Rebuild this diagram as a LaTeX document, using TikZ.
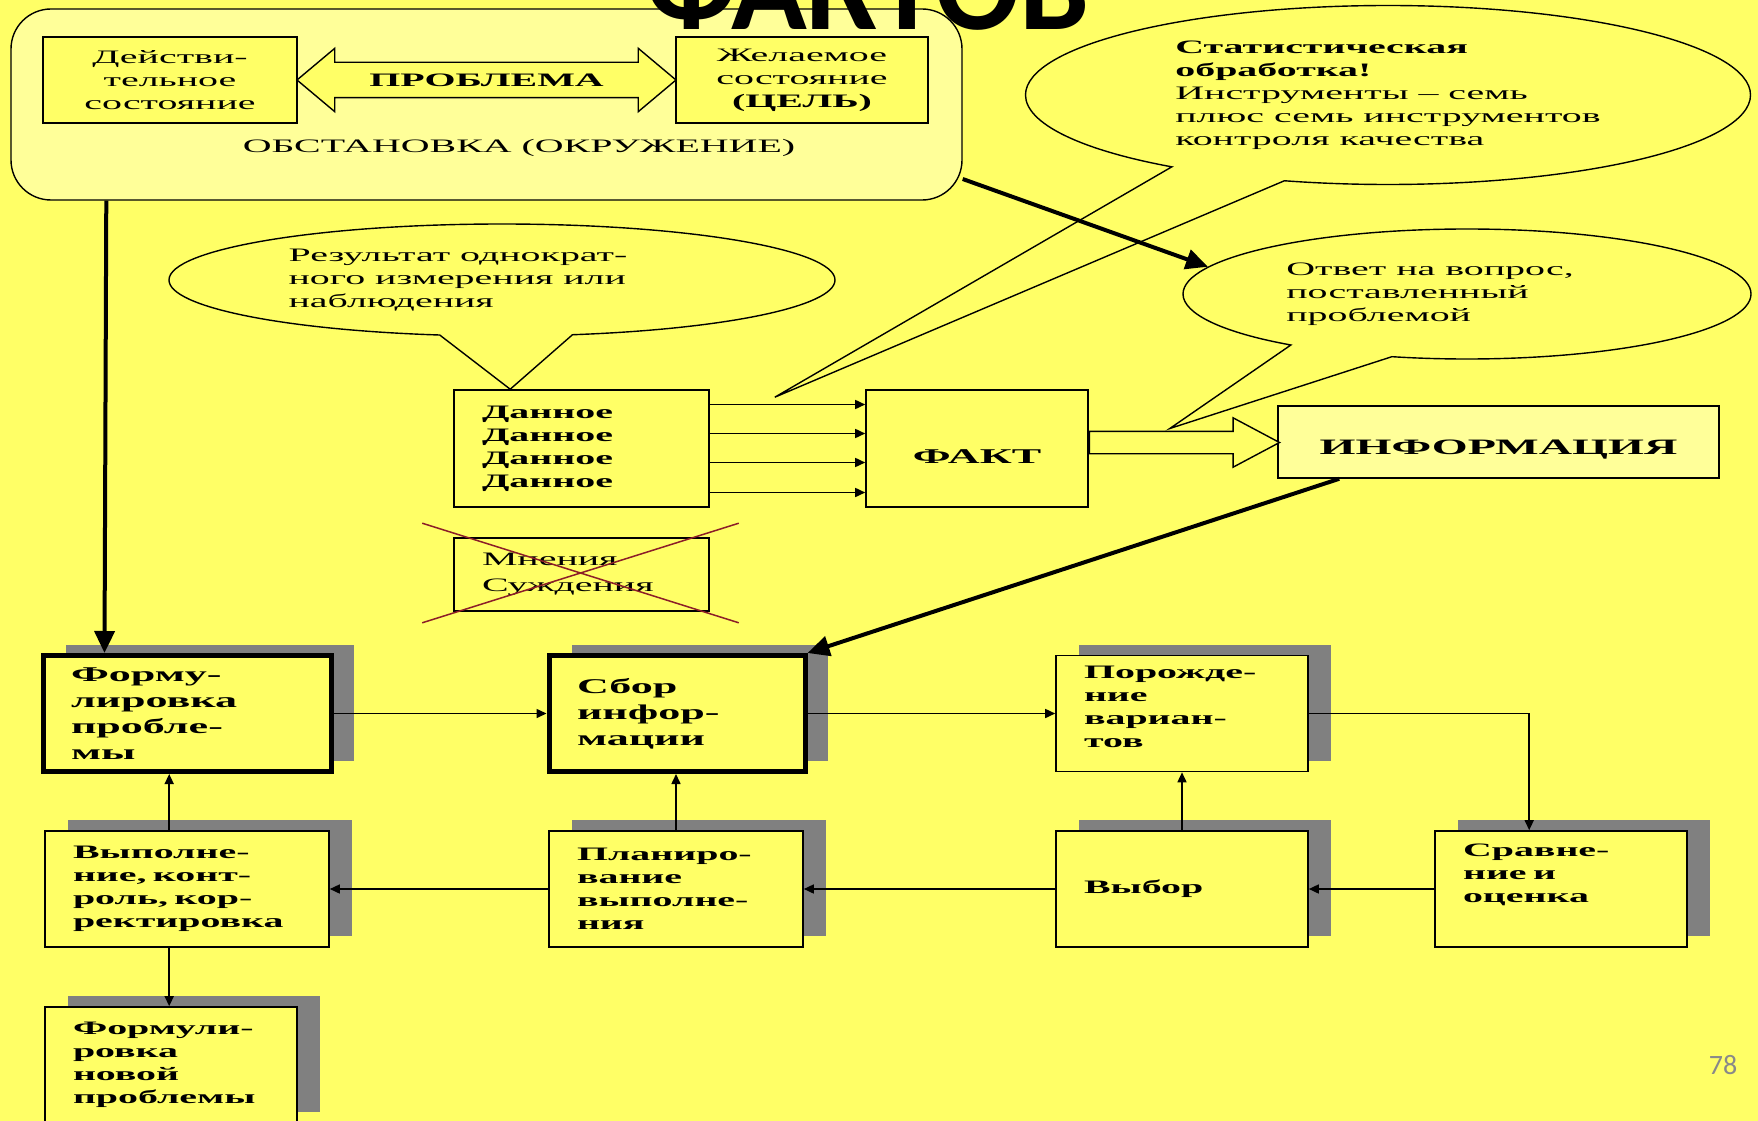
\documentclass[tikz,border=0pt]{standalone}
\usepackage{fontspec}
\setmainfont{Liberation Serif}
\newfontfamily\widefont[FakeStretch=2.1]{Liberation Serif}
\newfontfamily\slidefont{Carlito}
\usepackage{tikz}
\usetikzlibrary{arrows.meta, calc, shapes.arrows, shapes.callouts, shadows}
\definecolor{bgyellow}{RGB}{255,255,102}
\definecolor{lightyellow}{RGB}{255,255,153}
\definecolor{shadowgray}{RGB}{128,128,128}
\definecolor{crossred}{RGB}{140,30,40}
\definecolor{pagegray}{RGB}{137,137,137}
\newcommand{\smalltext}{\widefont\fontsize{19}{23}\selectfont}
\newcommand{\bigtext}{\widefont\bfseries\fontsize{21}{26}\selectfont}
\tikzset{freetext/.style={inner sep=0pt, font=\smalltext, align=left},
    envbox/.style={draw, line width=1.4pt, rounded corners=40pt, fill=lightyellow,
        minimum width=951pt, minimum height=191pt},
    topbox/.style={draw, line width=1.6pt, fill=bgyellow, align=center,
        font=\smalltext, minimum height=86pt},
    box/.style={draw, line width=1.6pt, fill=bgyellow, inner ysep=0pt, inner xsep=28pt,
        align=left, font=\smalltext\bfseries, minimum height=116pt},
    thickbox/.style={box, line width=5pt, font=\bigtext},
    shadowed/.style={general shadow={fill=shadowgray, shadow xshift=23pt, shadow yshift=11pt}},
    bubble/.style={ellipse callout, draw, line width=1.4pt, fill=bgyellow, align=left,
        inner sep=2pt, font=\smalltext},
    dblarrow/.style={double arrow, draw, line width=1.4pt, fill=bgyellow,
        font=\smalltext\bfseries, minimum height=379pt, double arrow head extend=14pt,
        double arrow tip angle=80, text height=13pt, text depth=0pt, inner ysep=10.5pt,
        inner xsep=0pt},
    blockarr/.style={single arrow, draw, line width=1.4pt, fill=bgyellow,
        minimum height=190pt, single arrow head extend=13.5pt, single arrow tip angle=56,
        text height=0pt, text depth=0pt, inner ysep=10.5pt, inner xsep=0pt},
    arr/.style={line width=1.6pt, -{Triangle[length=10pt, width=9pt]}},
    thickarr/.style={line width=4pt, -{Triangle[length=22pt, width=20pt]}},
    crossline/.style={line width=1.5pt, crossred}}

\begin{document}
\begin{tikzpicture}[x=1pt, y=-1pt]
    \fill[bgyellow] (0,0) rectangle (1758,1121);
    \useasboundingbox (0,0) rectangle (1758,1121);

    \node[envbox] (env) at (486.5,104.5) {};
    \node[topbox, minimum width=254pt] (real) at (170,80) {Действи-\\тельное\\состояние};
    \node[topbox, minimum width=252pt] (goal) at (802,80) {Желаемое\\состояние\\\textbf{(ЦЕЛЬ)}};
    \node[dblarrow] (problem) at ($(real.east)!0.5!(goal.west)$) {ПРОБЛЕМА};
    \node[freetext] (envlabel) at (519,148) {ОБСТАНОВКА (ОКРУЖЕНИЕ)};

    \node[box, text width=199pt, minimum height=117pt] (data) at (581.5,448.5) {Данное\\Данное\\Данное\\Данное};
    \node[topbox, minimum width=222pt, minimum height=117pt, font=\bigtext, text height=30pt]
        (fact) at (977,448.5) {ФАКТ};
    \node[topbox, fill=lightyellow, minimum width=441pt, minimum height=72pt, text height=29pt,
        font=\widefont\bfseries\fontsize{22}{26}\selectfont] (info) at (1498.5,442) {ИНФОРМАЦИЯ};
    \node[blockarr, anchor=tail] (factarr) at ($(fact.east)+(0,-6)$) {};
    \node[box, text width=199pt, minimum height=73pt,
        font=\widefont\fontsize{19}{26}\selectfont] (opinion) at (581.5,574.5) {Мнения\\Суждения};
    \draw[crossline] ($(opinion.north west)+(-31,-14)$) -- ($(opinion.south east)+(29,11)$);
    \draw[crossline] ($(opinion.south west)+(-31,11)$) -- ($(opinion.north east)+(29,-14)$);

    \foreach \dy in {-44,-15,14,44}
        \draw[arr] ($(data.east)+(0,\dy)$) -- ($(fact.west)+(0,\dy)$);

    \coordinate (resulttip) at ($(data.north west)+(57,0)$);
    \coordinate (stattip) at ($(data.north east)+(65,8)$);
    \coordinate (answertip) at ($(fact.east)+(81,-20)$);
    \node[bubble, minimum width=666pt, minimum height=112pt, callout absolute pointer=(resulttip),
        callout pointer arc=23] (result) at (502,280)
        {Результат однократ-\hspace*{88pt}\\ного измерения или\\наблюдения};
    \node[bubble, minimum width=725pt, minimum height=179pt, callout absolute pointer=(stattip),
        callout pointer arc=20] (stat) at (1388,95)
        {\textbf{Статистическая}\\\textbf{обработка!}\\Инструменты – семь\\плюс семь инструментов\hspace*{50pt}\\контроля качества};
    \node[bubble, minimum width=568pt, minimum height=130pt, callout absolute pointer=(answertip),
        callout pointer arc=23] (answer) at (1467,294)
        {Ответ на вопрос,\hspace*{74pt}\\поставленный\\проблемой};

    \node[thickbox, shadowed, text width=232pt] (form) at (187,713.5) {Форму-\\лировка\\пробле-\\мы};
    \node[thickbox, shadowed, text width=200pt] (collect) at (677,713.5) {Сбор\\инфор-\\мации};
    \node[box, shadowed, text width=196pt, text depth=83pt] (gen) at (1182,713.5) {Порожде-\\ние\\вариан-\\тов};
    \node[box, shadowed, text width=228pt] (exec) at (187,889) {Выполне-\\ние, конт-\\роль, кор-\\ректировка};
    \node[box, shadowed, text width=198pt] (plan) at (676,889) {Планиро-\\вание\\выполне-\\ния};
    \node[box, shadowed, text width=196pt] (choice) at (1182,889) {Выбор};
    \node[box, shadowed, text width=196pt, text depth=77pt] (compare) at (1561,889) {Сравне-\\ние и\\оценка};
    \node[box, shadowed, text width=196pt] (newprob) at (171,1065) {Формули-\\ровка\\новой\\проблемы};

    \coordinate (cmpin) at ($(compare.north west)+(95,0)$);
    \coordinate (execup) at ($(exec.north west)+(125,0)$);
    \draw[arr] (form) -- (collect);
    \draw[arr] (collect) -- (gen);
    \draw[arr] (gen.east) -| (cmpin);
    \draw[arr] (compare.west) -- (compare.west -| choice.east);
    \draw[arr] (choice) -- (plan);
    \draw[arr] (plan) -- (exec);
    \draw[arr] (choice) -- (gen);
    \draw[arr] (plan.north) -- (plan.north |- collect.south);
    \draw[arr] (execup) -- (execup |- form.south);
    \draw[arr] (execup |- exec.south) -- (execup |- newprob.north);

    \draw[thickarr] ($(env.south west)+(96,0)$) -- ($(form.north west)+(64,0)$);
    \draw[thickarr] ($(env.east)+(0,74.5)$) -- (answer.174);
    \draw[thickarr] ($(info.south west)+(62,0)$) -- (collect.north east);

    \node[anchor=base east, inner sep=0pt,
        font=\slidefont\bfseries\fontsize{125}{125}\selectfont] (title) at (1090,30) {ФАКТОВ};
    \node[font=\slidefont\fontsize{28}{28}\selectfont, text=pagegray] (pageno) at (1723,1065) {78};
\end{tikzpicture}
\end{document}
